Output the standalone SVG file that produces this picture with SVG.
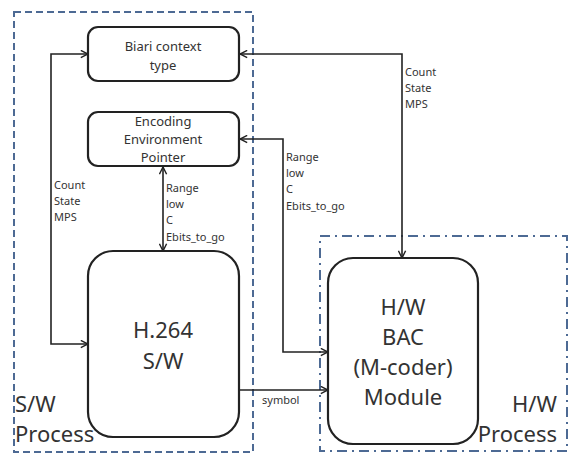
<svg xmlns="http://www.w3.org/2000/svg" width="574" height="459" viewBox="0 0 574 459">
<defs>
<marker id="arr" viewBox="0 0 10 10" refX="9" refY="5" markerWidth="9" markerHeight="9" markerUnits="userSpaceOnUse" orient="auto-start-reverse">
<path d="M1,1 L9,5 L1,9" fill="none" stroke="#222" stroke-width="1.6"/>
</marker>
<style>
.node{fill:#fff;stroke:#222;stroke-width:2.2}
.t{font-family:"Noto Sans","Open Sans",sans-serif;fill:#333;text-anchor:middle}
.s{font-size:13px}
.b{font-size:22px}
.l{font-family:"Noto Sans","Open Sans",sans-serif;font-size:11px;fill:#333}
.c{fill:none;stroke:#222;stroke-width:1.6}
.grp{fill:none;stroke:#4d6a94;stroke-width:2}
.gt{font-family:"Noto Sans","Open Sans",sans-serif;font-size:22px;fill:#333}
</style>
</defs>
<rect width="574" height="459" fill="#fff"/>
<g id="sw-process">
<rect class="grp" x="14" y="12" width="239" height="440" stroke-dasharray="7,4"/>
<text class="gt" x="15" y="412">S/W</text>
<text class="gt" x="15" y="442">Process</text>
</g>
<g id="hw-process">
<rect class="grp" x="320" y="236" width="247" height="215" stroke-dasharray="10,5,2,5"/>
<text class="gt" x="557" y="412" text-anchor="end">H/W</text>
<text class="gt" x="557" y="442" text-anchor="end">Process</text>
</g>
<g id="connectors">
<path class="c" d="M88,54 H51 V344 H88" marker-start="url(#arr)" marker-end="url(#arr)"/>
<path class="c" d="M163,167 V251" marker-start="url(#arr)" marker-end="url(#arr)"/>
<path class="c" d="M240,54 H402 V258" marker-start="url(#arr)" marker-end="url(#arr)"/>
<path class="c" d="M240,139 H283 V352 H328" marker-start="url(#arr)" marker-end="url(#arr)"/>
<path class="c" d="M240,390 H328" marker-end="url(#arr)"/>
<text class="l" x="54" y="189">Count</text>
<text class="l" x="54" y="205">State</text>
<text class="l" x="54" y="221">MPS</text>
<text class="l" x="166" y="192">Range</text>
<text class="l" x="166" y="208">low</text>
<text class="l" x="166" y="224">C</text>
<text class="l" x="166" y="241">Ebits_to_go</text>
<text class="l" x="405" y="76">Count</text>
<text class="l" x="405" y="92">State</text>
<text class="l" x="405" y="108">MPS</text>
<text class="l" x="286" y="161">Range</text>
<text class="l" x="286" y="177">low</text>
<text class="l" x="286" y="193">C</text>
<text class="l" x="286" y="210">Ebits_to_go</text>
<text class="l" x="262" y="404">symbol</text>
</g>
<g id="biari">
<rect class="node" x="88" y="27" width="151" height="54" rx="10"/>
<text class="t s" x="163" y="51">Biari context</text>
<text class="t s" x="163" y="70">type</text>
</g>
<g id="encoding">
<rect class="node" x="88" y="112" width="151" height="54" rx="10"/>
<text class="t s" x="163" y="126">Encoding</text>
<text class="t s" x="163" y="144">Environment</text>
<text class="t s" x="163" y="162">Pointer</text>
</g>
<g id="h264">
<rect class="node" x="88" y="251" width="151" height="186" rx="25"/>
<text class="t b" x="163" y="338">H.264</text>
<text class="t b" x="163" y="369">S/W</text>
</g>
<g id="hwbac">
<rect class="node" x="328" y="258" width="150" height="186" rx="25"/>
<text class="t b" x="403" y="315">H/W</text>
<text class="t b" x="403" y="345">BAC</text>
<text class="t b" x="403" y="375">(M-coder)</text>
<text class="t b" x="403" y="405">Module</text>
</g>
</svg>
